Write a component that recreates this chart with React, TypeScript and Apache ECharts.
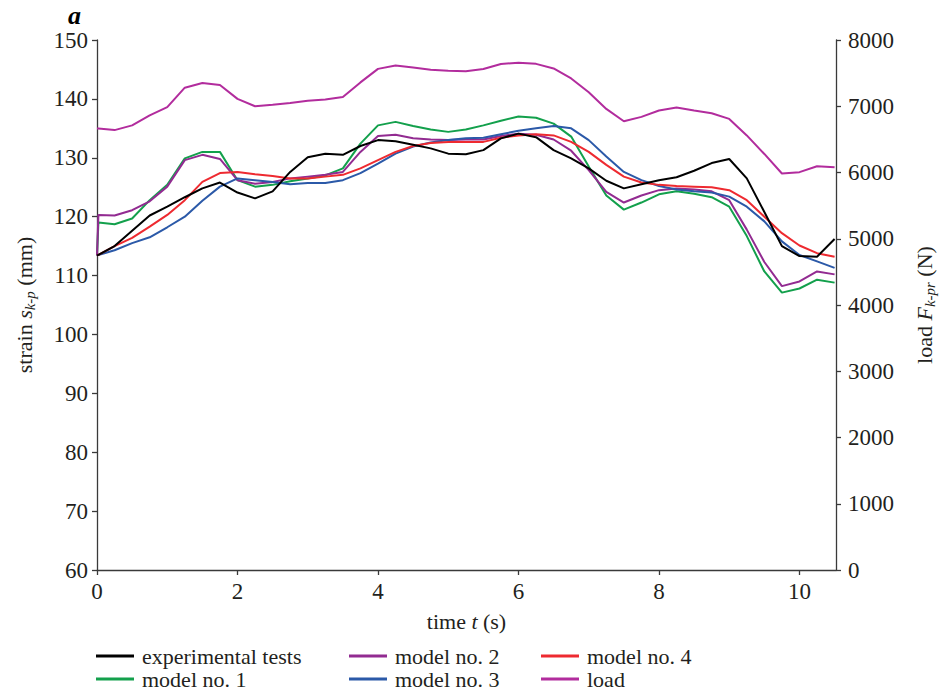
import React, { useEffect, useRef } from "react";
import * as echarts from "echarts";

const time = [0, 0.02, 0.25, 0.5, 0.75, 1, 1.25, 1.5, 1.75, 2, 2.25, 2.5, 2.75, 3, 3.25, 3.5, 3.75, 4, 4.25, 4.5, 4.75, 5, 5.25, 5.5, 5.75, 6, 6.25, 6.5, 6.75, 7, 7.25, 7.5, 7.75, 8, 8.25, 8.5, 8.75, 9, 9.25, 9.5, 9.75, 10, 10.25, 10.5];

const experimental = [113.4, 113.5, 115.0, 117.6, 120.2, 121.7, 123.3, 124.8, 125.8, 124.1, 123.1, 124.3, 127.6, 130.1, 130.7, 130.5, 132.0, 133.0, 132.8, 132.2, 131.6, 130.7, 130.6, 131.3, 133.3, 134.1, 133.5, 131.3, 129.9, 128.2, 126.1, 124.8, 125.5, 126.2, 126.7, 127.8, 129.1, 129.8, 126.5, 120.8, 115.0, 113.3, 113.2, 116.2];
const model1 = [113.4, 119.0, 118.7, 119.7, 122.8, 125.4, 129.9, 131.0, 131.0, 126.2, 125.1, 125.4, 126.0, 126.5, 127.0, 128.2, 132.4, 135.5, 136.1, 135.4, 134.8, 134.4, 134.8, 135.5, 136.3, 137.0, 136.8, 135.8, 133.6, 128.5, 123.6, 121.2, 122.4, 123.8, 124.3, 123.9, 123.3, 121.7, 116.7, 110.7, 107.1, 107.8, 109.3, 108.8];
const model2 = [113.4, 120.3, 120.2, 121.1, 122.6, 125.1, 129.6, 130.5, 129.8, 126.2, 125.6, 125.9, 126.5, 126.8, 127.1, 127.6, 131.0, 133.7, 133.9, 133.3, 133.1, 133.0, 133.1, 133.1, 133.7, 134.1, 133.9, 133.1, 131.2, 127.9, 124.2, 122.4, 123.6, 124.5, 124.8, 124.6, 124.3, 122.8, 117.8, 112.3, 108.2, 109.0, 110.7, 110.2];
const model3 = [113.4, 113.5, 114.3, 115.5, 116.5, 118.2, 120.0, 122.7, 125.1, 126.5, 126.2, 125.9, 125.5, 125.7, 125.7, 126.2, 127.4, 129.0, 130.7, 131.9, 132.6, 133.0, 133.3, 133.4, 134.0, 134.6, 135.0, 135.4, 135.0, 133.0, 130.2, 127.6, 126.2, 125.2, 124.6, 124.3, 124.1, 123.4, 121.7, 119.2, 115.8, 113.5, 112.4, 111.3];
const model4 = [113.4, 113.5, 115.0, 116.4, 118.3, 120.3, 122.8, 125.9, 127.4, 127.6, 127.2, 126.9, 126.5, 126.5, 126.8, 127.1, 128.2, 129.6, 131.0, 132.0, 132.5, 132.7, 132.7, 132.7, 133.4, 133.8, 134.0, 133.8, 132.7, 131.0, 128.8, 126.8, 125.8, 125.4, 125.2, 125.1, 125.0, 124.5, 122.8, 120.0, 117.2, 115.1, 113.8, 113.2];
const load = [6663, 6663, 6640, 6711, 6862, 6987, 7280, 7351, 7320, 7111, 7000, 7022, 7049, 7084, 7102, 7138, 7360, 7564, 7615, 7585, 7550, 7535, 7530, 7563, 7638, 7658, 7640, 7570, 7420, 7211, 6960, 6774, 6840, 6935, 6980, 6935, 6894, 6809, 6560, 6280, 5985, 6005, 6095, 6080];

const seriesNames = ["experimental tests", "model no. 1", "model no. 2", "model no. 3", "model no. 4", "load"];
const seriesColors = ["#000000", "#13a04c", "#922b91", "#2b59a8", "#ee2a30", "#b22c9d"];
// legend slot: [column, row]
const legendSlots = [[0, 0], [0, 1], [1, 0], [1, 1], [2, 0], [2, 1]];

const FONT = "Liberation Serif";
const TXT = "#231f20";

export default function App() {
  const ref = useRef<HTMLDivElement>(null);
  useEffect(() => {
    if (!ref.current) return;
    const chart = echarts.init(ref.current, null, { renderer: "svg" });
    const values = [experimental, model1, model2, model3, model4, load];
    const series = values.map((arr, i) => ({
      name: seriesNames[i],
      type: "line",
      yAxisIndex: i === 5 ? 1 : 0,
      data: arr.map((v, k) => [time[k], v]),
      symbol: "none",
      lineStyle: { color: seriesColors[i], width: 2 },
      itemStyle: { color: seriesColors[i] },
      z: i === 0 ? 3 : 2,
    }));
    const axisLine = { show: true, lineStyle: { color: "#3a3a3a", width: 1.3 } };
    const axisTick = { show: true, length: 5, lineStyle: { color: "#3a3a3a", width: 1.3 } };
    const labelStyle = { fontFamily: FONT, fontSize: 23, color: TXT };
    const subRich = {
      i: { fontFamily: FONT, fontSize: 22, fontStyle: "italic", color: TXT, lineHeight: 26 },
      sub: { fontFamily: FONT, fontSize: 15, fontStyle: "italic", color: TXT, verticalAlign: "bottom", lineHeight: 15 },
    };
    const colX = [96, 349, 541];
    const rowY = [645, 668];
    const legends = legendSlots.map(([c, r], i) => ({
      orient: "horizontal",
      left: colX[c],
      top: rowY[r],
      itemWidth: 38,
      itemHeight: 3,
      icon: "rect",
      padding: 0,
      textStyle: { fontFamily: FONT, fontSize: 22, color: TXT, lineHeight: 20, padding: [0, 0, 0, 3] },
      data: [seriesNames[i]],
    }));
    chart.setOption({
      animation: false,
      backgroundColor: "#ffffff",
      textStyle: { fontFamily: FONT, color: TXT },
      grid: { left: 97, right: 105, top: 40, bottom: 123, containLabel: false },
      xAxis: {
        type: "value",
        min: 0,
        max: 10.52,
        interval: 2,
        splitLine: { show: false },
        axisLine,
        axisTick,
        axisLabel: {
          ...labelStyle,
          margin: 10,
          showMaxLabel: false,
          formatter: (v: number) => (Math.abs(v % 2) < 1e-9 ? String(v) : ""),
        },
        name: "time {i|t} (s)",
        nameLocation: "middle",
        nameGap: 40,
        nameTextStyle: {
          fontFamily: FONT,
          fontSize: 22,
          color: TXT,
          rich: { i: { fontFamily: FONT, fontSize: 22, fontStyle: "italic", color: TXT } },
        },
      },
      yAxis: [
        {
          type: "value",
          min: 60,
          max: 150,
          interval: 10,
          splitLine: { show: false },
          axisLine,
          axisTick,
          axisLabel: { ...labelStyle, margin: 9, formatter: (v: number) => String(v) },
          name: "strain {i|s}{sub|k-p} (mm)",
          nameLocation: "middle",
          nameRotate: 90,
          nameGap: 60,
          nameTextStyle: { fontFamily: FONT, fontSize: 22, color: TXT, lineHeight: 26, rich: subRich },
        },
        {
          type: "value",
          min: 0,
          max: 8000,
          interval: 1000,
          position: "right",
          splitLine: { show: false },
          axisLine,
          axisTick,
          axisLabel: { ...labelStyle, margin: 12, formatter: (v: number) => String(v) },
          name: "load {i|F}{sub|k-pr} (N)",
          nameLocation: "middle",
          nameRotate: 90,
          nameGap: 75,
          nameTextStyle: { fontFamily: FONT, fontSize: 22, color: TXT, lineHeight: 26, rich: subRich },
        },
      ],
      legend: legends,
      graphic: [
        {
          type: "text",
          left: 68,
          top: 2,
          style: { text: "a", font: `italic bold 26px ${FONT}`, fill: "#000" },
        },
      ],
      series,
    });
    return () => chart.dispose();
  }, []);
  return (
    <div
      ref={ref}
      style={{ position: "fixed", left: 0, top: 0, width: 945, height: 693, background: "#fff" }}
    />
  );
}
